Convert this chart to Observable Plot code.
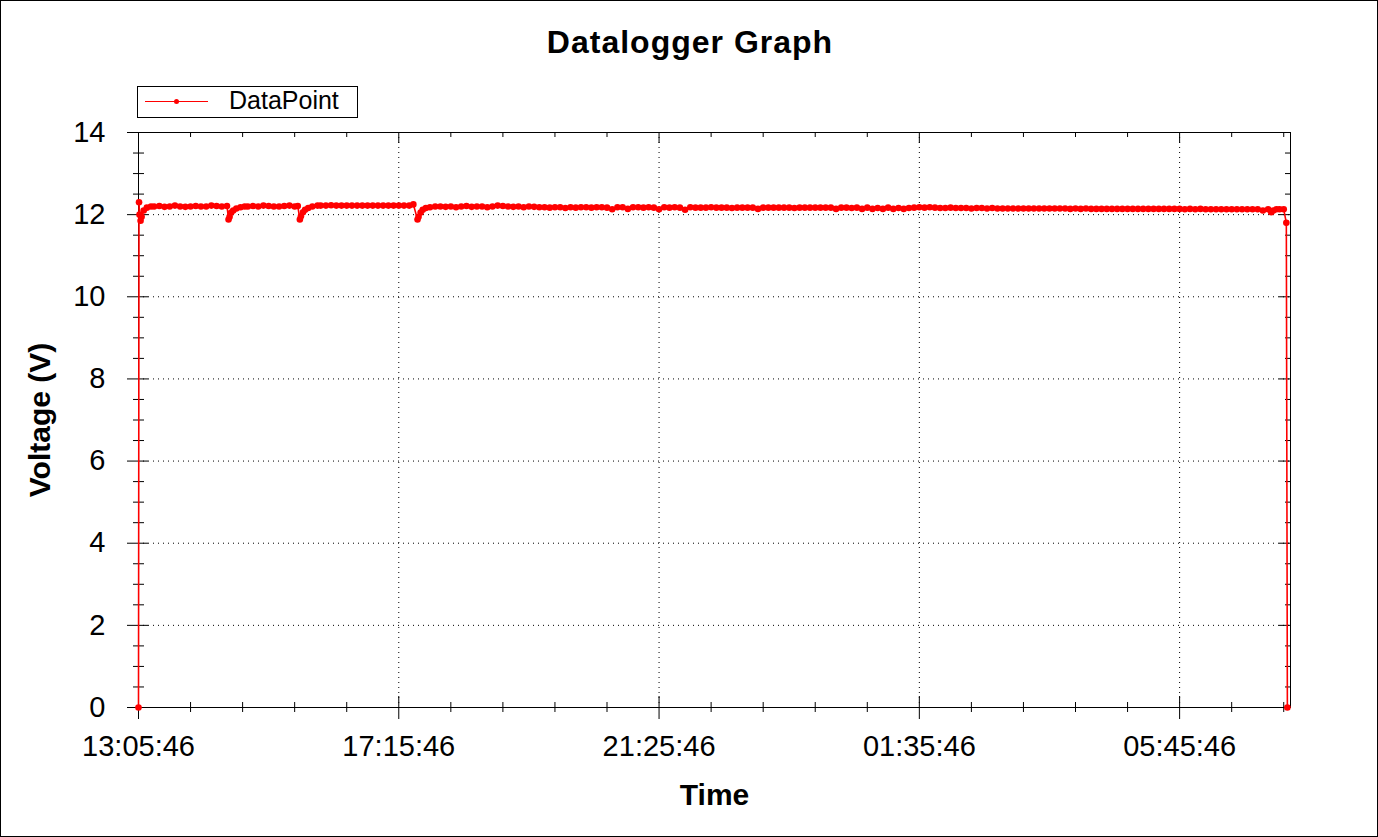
<!DOCTYPE html>
<html>
<head>
<meta charset="utf-8">
<script src="https://cdn.jsdelivr.net/npm/d3@7"></script>
<script src="https://cdn.jsdelivr.net/npm/@observablehq/plot@0.6"></script>
<style>
  html, body { margin: 0; padding: 0; background: #fff; }
  #wrap { position: relative; width: 1378px; height: 837px; background: #fff; overflow: hidden;
          font-family: "Liberation Sans", Arial, sans-serif; }
  #head { position: absolute; left: 0; top: 0; }
  #chart { position: absolute; left: 0; top: 120px; }
  #border { position: absolute; left: 0; top: 0; width: 1378px; height: 837px; box-sizing: border-box;
            border: 1px solid #000; pointer-events: none; }
</style>
</head>
<body>
<div id="wrap">
  <svg id="head" width="1378" height="120" font-family="Liberation Sans, Arial, sans-serif">
    <text id="title" x="690" y="53" text-anchor="middle" font-weight="bold" font-size="32" letter-spacing="1">Datalogger Graph</text>
    <g id="legend">
      <rect x="137.5" y="86.5" width="220" height="31" fill="#fff" stroke="#000"></rect>
      <line x1="145" x2="208" y1="101.5" y2="101.5" stroke="red" stroke-width="1"></line>
      <circle cx="176.5" cy="101.5" r="2.5" fill="red"></circle>
      <text x="229" y="109" font-size="25">DataPoint</text>
    </g>
  </svg>
  <div id="chart"></div>
  <div id="border"></div>
</div>
<script>
// ---- data (minutes after the first reading, voltage in V) ----
const startTime = Date.UTC(2020, 0, 1, 13, 5, 46);
const endMinute = 1106.5;

const earlyMinutes = [0, 0.5, 1, 2, 3, 5, 8, 12,
  15, 20, 25, 30, 35, 40, 45, 50, 55, 60, 65, 70, 75, 80, 85,
  86.5, 87.5, 89, 91, 94, 98, 102,
  105, 110, 115, 120, 125, 130, 135, 140, 145, 150, 153,
  155, 156, 158, 160, 163, 167, 172,
  175, 180, 185, 190, 195, 200, 205, 210, 215, 220, 225, 230, 235, 240, 245, 250, 255, 260, 264,
  268, 269, 271, 273, 276, 280, 285];
const earlyVolts = [0, 12.3, 12.0, 11.85, 11.95, 12.1, 12.17, 12.2,
  12.2, 12.21, 12.19, 12.2, 12.22, 12.2, 12.19, 12.2, 12.21, 12.2, 12.2, 12.22, 12.21, 12.2, 12.21,
  11.88, 11.95, 12.05, 12.1, 12.15, 12.18, 12.2,
  12.2, 12.21, 12.2, 12.22, 12.21, 12.2, 12.2, 12.21, 12.22, 12.2, 12.21,
  11.88, 11.96, 12.06, 12.12, 12.16, 12.2, 12.22,
  12.22, 12.22, 12.23, 12.22, 12.22, 12.22, 12.22, 12.22, 12.22, 12.22, 12.22, 12.22, 12.22, 12.22, 12.22, 12.22, 12.22, 12.22, 12.25,
  11.88, 11.95, 12.05, 12.12, 12.16, 12.18, 12.2];

// readings every 5 minutes from minute 290 to 1085
const regularStart = 290;
const regularStep = 5;
const regularVolts = [
  12.2, 12.19, 12.2, 12.18, 12.2, 12.21, 12.19, 12.2, 12.2, 12.18,
  12.2, 12.22, 12.21, 12.2, 12.19, 12.2, 12.18, 12.2, 12.19, 12.18,
  12.18, 12.17, 12.18, 12.18, 12.16, 12.18, 12.17, 12.18, 12.18, 12.17,
  12.18, 12.18, 12.17, 12.13, 12.18, 12.18, 12.14, 12.18, 12.18, 12.17,
  12.18, 12.17, 12.13, 12.18, 12.17, 12.18, 12.17, 12.12, 12.18, 12.17,
  12.17, 12.17, 12.18, 12.17, 12.17, 12.17, 12.16, 12.17, 12.17, 12.17,
  12.17, 12.14, 12.17, 12.17, 12.17, 12.17, 12.17, 12.17, 12.16, 12.17,
  12.17, 12.17, 12.17, 12.17, 12.17, 12.17, 12.14, 12.17, 12.17, 12.16,
  12.17, 12.14, 12.17, 12.14, 12.16, 12.14, 12.17, 12.14, 12.16, 12.14,
  12.16, 12.17, 12.18, 12.17, 12.18, 12.17, 12.16, 12.16, 12.17, 12.16,
  12.16, 12.16, 12.15, 12.16, 12.16, 12.15, 12.16, 12.15, 12.15, 12.15,
  12.15, 12.15, 12.15, 12.15, 12.15, 12.15, 12.15, 12.15, 12.15, 12.15,
  12.15, 12.14, 12.15, 12.14, 12.15, 12.14, 12.14, 12.14, 12.14, 12.14,
  12.14, 12.14, 12.14, 12.14, 12.14, 12.14, 12.14, 12.14, 12.14, 12.14,
  12.14, 12.14, 12.14, 12.13, 12.14, 12.13, 12.14, 12.13, 12.13, 12.13,
  12.13, 12.13, 12.13, 12.13, 12.13, 12.13, 12.13, 12.13, 12.1, 12.13];

const lateMinutes = [1088, 1090, 1093, 1096, 1100, 1102.5, 1103.5];
const lateVolts = [12.06, 12.1, 12.13, 12.13, 12.13, 11.8, 0];

const majorTickMinutes = [0, 250, 500, 750, 1000];
const tickLabels = ["13:05:46", "17:15:46", "21:25:46", "01:35:46", "05:45:46"];
const minorTickMinutes = [50, 100, 150, 200, 300, 350, 400, 450, 550, 600, 650, 700,
  800, 850, 900, 950, 1050, 1100];
const yMajor = [0, 2, 4, 6, 8, 10, 12, 14];
const yMinor = [0.5, 1, 1.5, 2.5, 3, 3.5, 4.5, 5, 5.5, 6.5, 7, 7.5, 8.5, 9, 9.5,
  10.5, 11, 11.5, 12.5, 13, 13.5];

// ---- build table ----
const toDate = m => new Date(startTime + m * 60000);
const data = [];
earlyMinutes.forEach((m, i) => data.push({t: toDate(m), v: earlyVolts[i]}));
regularVolts.forEach((v, i) => data.push({t: toDate(regularStart + i * regularStep), v}));
lateMinutes.forEach((m, i) => data.push({t: toDate(m), v: lateVolts[i]}));

const majorDates = majorTickMinutes.map(toDate);
const minorDates = minorTickMinutes.map(toDate);
const labelOf = new Map(majorDates.map((d, i) => [+d, tickLabels[i]]));

const W = 1378, H = 717, mL = 138, mR = 88, mT = 12, mB = 130;
const fW = W - mL - mR, fH = H - mT - mB;

const chart = Plot.plot({
  width: W, height: H,
  marginLeft: mL, marginRight: mR, marginTop: mT, marginBottom: mB,
  style: {fontFamily: "Liberation Sans, Arial, sans-serif", fontSize: "29px", color: "#000", background: "transparent", overflow: "visible"},
  x: {type: "utc", domain: [toDate(0), toDate(endMinute)], axis: null},
  y: {domain: [0, 14], axis: null},
  marks: [
    // dotted grid
    Plot.ruleX(majorDates.slice(1), {stroke: "#000", strokeDasharray: "1,4", strokeWidth: 1}),
    Plot.ruleY(yMajor.filter(v => v > 0 && v < 14), {stroke: "#000", strokeDasharray: "1,4", strokeWidth: 1}),
    Plot.frame({stroke: "#000"}),
    // bottom ticks
    Plot.ruleX(majorDates, {stroke: "#000", insetTop: fH - 11, insetBottom: -12}),
    Plot.ruleX(minorDates, {stroke: "#000", insetTop: fH - 5, insetBottom: -5}),
    // top ticks
    Plot.ruleX(majorDates, {stroke: "#000", insetBottom: fH - 11}),
    Plot.ruleX(minorDates, {stroke: "#000", insetBottom: fH - 5}),
    // left ticks
    Plot.ruleY(yMajor, {stroke: "#000", insetLeft: -11, insetRight: fW - 10}),
    Plot.ruleY(yMinor, {stroke: "#000", insetLeft: -5, insetRight: fW - 6}),
    // right ticks
    Plot.ruleY(yMajor, {stroke: "#000", insetLeft: fW - 11}),
    Plot.ruleY(yMinor, {stroke: "#000", insetLeft: fW - 5}),
    // tick labels
    Plot.axisX(majorDates, {tickSize: 0, tickPadding: 28, fontSize: 29, label: null, tickFormat: d => labelOf.get(+d)}),
    Plot.axisY(yMajor, {tickSize: 0, tickPadding: 33, fontSize: 29, label: null, tickFormat: d => String(d)}),
    // axis titles
    Plot.text(["Time"], {text: d => d, frameAnchor: "bottom", lineAnchor: "middle", dy: 88, fontSize: 30, fontWeight: "bold"}),
    Plot.text(["Voltage (V)"], {text: d => d, frameAnchor: "left", textAnchor: "middle", lineAnchor: "middle", rotate: -90, dx: -98, fontSize: 30, fontWeight: "bold"}),
    // data
    Plot.line(data, {x: "t", y: "v", stroke: "red", strokeWidth: 1.6}),
    Plot.dot(data, {x: "t", y: "v", fill: "red", stroke: "none", r: 3.3})
  ]
});
document.getElementById("chart").appendChild(chart);
</script>
</body>
</html>
